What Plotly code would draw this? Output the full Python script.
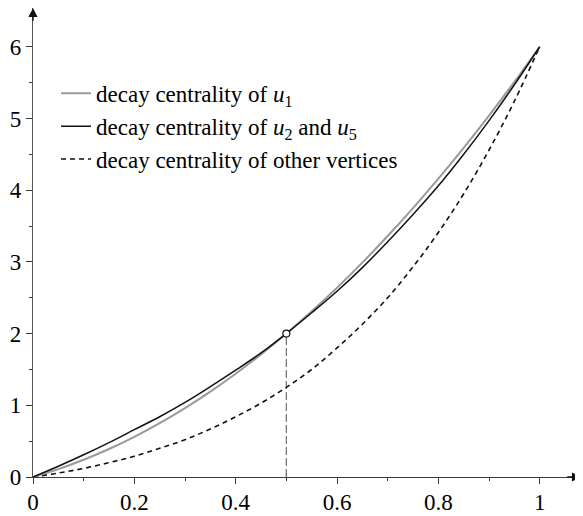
import plotly.graph_objects as go

# ---- data ----
delta = [0.0, 0.05, 0.1, 0.15, 0.2, 0.25, 0.3, 0.35, 0.4, 0.45, 0.5,
         0.55, 0.6, 0.65, 0.7, 0.75, 0.8, 0.85, 0.9, 0.95, 1.0]
decay_u1 = [0.0, 0.11, 0.24, 0.39, 0.56, 0.75, 0.96, 1.19, 1.44, 1.71, 2.0,
            2.31, 2.64, 2.99, 3.36, 3.75, 4.16, 4.59, 5.04, 5.51, 6.0]
decay_u2_u5 = [0.0, 0.15, 0.31, 0.48, 0.66, 0.84, 1.04, 1.26, 1.49, 1.73, 2.0,
               2.29, 2.59, 2.92, 3.28, 3.66, 4.06, 4.50, 4.97, 5.47, 6.0]
decay_other = [0.0, 0.055, 0.12, 0.20, 0.29, 0.40, 0.52, 0.67, 0.84, 1.03, 1.25,
               1.50, 1.80, 2.13, 2.50, 2.93, 3.41, 3.95, 4.56, 5.24, 6.0]
cross_x = [0.5]
cross_y = [2.0]

x_ticks = [0, 0.2, 0.4, 0.6, 0.8, 1.0]
x_tick_labels = ["0", "0.2", "0.4", "0.6", "0.8", "1"]
x_minor = [0.1, 0.3, 0.5, 0.7, 0.9]
y_ticks = [0, 1, 2, 3, 4, 5, 6]
y_tick_labels = ["0", "1", "2", "3", "4", "5", "6"]
y_minor = [0.5, 1.5, 2.5, 3.5, 4.5, 5.5]

labels = ["decay centrality of <i>u</i><sub>1</sub>",
          "decay centrality of <i>u</i><sub>2</sub> and <i>u</i><sub>5</sub>",
          "decay centrality of other vertices"]

X_MAX = 1.0815
Y_MAX = 6.54
FONT = "Liberation Serif"
AX = "#3a3a3a"

fig = go.Figure()

# drop line from the crossing point
fig.add_trace(go.Scatter(x=[cross_x[0], cross_x[0]], y=[0, cross_y[0]], mode="lines",
                         line=dict(color="#777777", width=1.3, dash="8px,3px"),
                         showlegend=False, hoverinfo="skip"))
fig.add_trace(go.Scatter(x=delta, y=decay_other, mode="lines", name=labels[2],
                         line=dict(color="#111111", width=1.6, dash="5px,4px", shape="spline"),
                         legendrank=3, legendgroup="c"))
fig.add_trace(go.Scatter(x=delta, y=decay_u1, mode="lines", name=labels[0],
                         line=dict(color="#9a9a9a", width=2, shape="spline"),
                         legendrank=1, legendgroup="a"))
fig.add_trace(go.Scatter(x=delta, y=decay_u2_u5, mode="lines", name=labels[1],
                         line=dict(color="#111111", width=1.5, shape="spline"),
                         legendrank=2, legendgroup="b"))
fig.add_trace(go.Scatter(x=cross_x, y=cross_y, mode="markers",
                         marker=dict(size=7, color="white", line=dict(color="#111111", width=1.2)),
                         showlegend=False, hoverinfo="skip"))

# axis arrowheads
fig.add_annotation(x=X_MAX, y=0, ax=X_MAX - 0.03, ay=0, axref="x", ayref="y",
                   xref="x", yref="y", text="", showarrow=True, arrowhead=2,
                   arrowsize=1.3, arrowwidth=1.4, arrowcolor="#111111", standoff=0)
fig.add_annotation(x=0, y=Y_MAX, ax=0, ay=Y_MAX - 0.2, axref="x", ayref="y",
                   xref="x", yref="y", text="", showarrow=True, arrowhead=2,
                   arrowsize=1.3, arrowwidth=1.4, arrowcolor="#111111", standoff=0)

# the page adds an 8px body margin, so the figure is sized/offset to compensate
fig.update_layout(
    width=575, height=508,
    margin=dict(l=25, r=2, t=0, b=39, autoexpand=False),
    paper_bgcolor="white", plot_bgcolor="white",
    font=dict(family=FONT, size=23, color="black"),
    showlegend=True,
    legend=dict(x=0.042, y=0.864, xanchor="left", yanchor="top",
                bgcolor="rgba(0,0,0,0)", borderwidth=0,
                traceorder="grouped", tracegroupgap=0,
                font=dict(family=FONT, size=23, color="black")),
    xaxis=dict(range=[0, X_MAX], showgrid=False, zeroline=False, automargin=False,
               showline=True, linecolor=AX, linewidth=1.3,
               tickmode="array", tickvals=x_ticks, ticktext=x_tick_labels,
               ticks="outside", ticklen=6, tickwidth=1.1, tickcolor=AX,
               ticklabelstandoff=-2,
               minor=dict(tickvals=x_minor, ticks="outside", ticklen=3, tickwidth=1, tickcolor=AX),
               tickfont=dict(family=FONT, size=23, color="black")),
    yaxis=dict(range=[0, Y_MAX], showgrid=False, zeroline=False, automargin=False,
               showline=True, linecolor="#555555", linewidth=1.3,
               tickmode="array", tickvals=y_ticks, ticktext=y_tick_labels,
               ticks="outside", ticklen=6, tickwidth=1.1, tickcolor=AX,
               minor=dict(tickvals=y_minor, ticks="outside", ticklen=3, tickwidth=1, tickcolor=AX),
               tickfont=dict(family=FONT, size=23, color="black")),
)

fig.write_html("out.html")
